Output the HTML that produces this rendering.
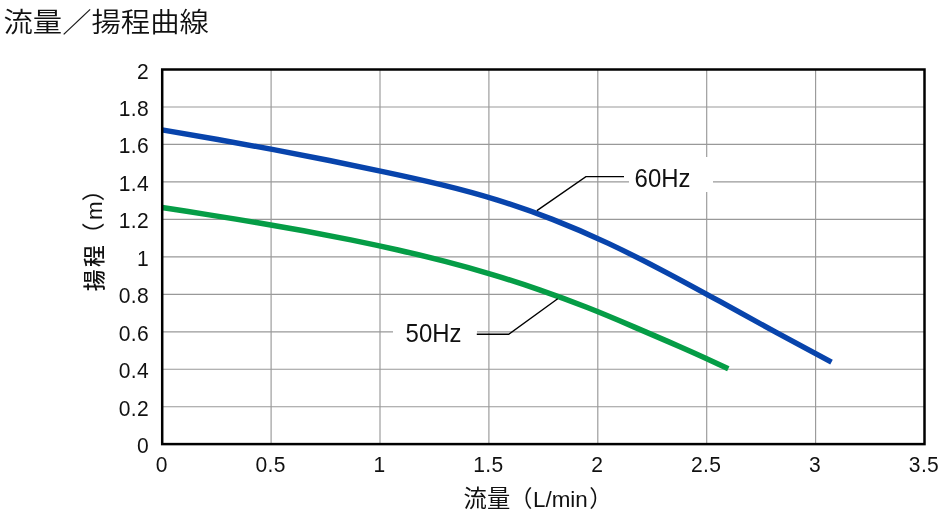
<!DOCTYPE html>
<html lang="ja">
<head>
<meta charset="utf-8">
<title>流量／揚程曲線</title>
<style>
html,body{margin:0;padding:0;background:#fff;}
body{width:940px;height:514px;overflow:hidden;position:relative;font-family:"Liberation Sans","Noto Sans CJK JP",sans-serif;}
svg{position:absolute;left:0;top:0;display:block;}
.title{font-family:"Liberation Sans","Noto Sans CJK JP",sans-serif;font-size:29px;font-weight:350;fill:#111;}
.tick text{font-family:"Liberation Sans",sans-serif;font-size:22.4px;fill:#111;letter-spacing:0.4px;}
.axis{font-family:"Liberation Sans","Noto Sans CJK JP",sans-serif;font-size:22.5px;fill:#111;}
.kj{font-size:23.3px;font-weight:400;}
.kjy{font-size:21.7px;font-weight:500;}
.pr{font-size:23px;font-weight:400;}
.lt{font-size:22.4px;}
.lab{font-family:"Liberation Sans",sans-serif;font-size:25.6px;fill:#111;}
.grid line{stroke:#999;stroke-width:1.15;}
</style>
</head>
<body>
<svg width="940" height="514" viewBox="0 0 940 514">
<rect x="0" y="0" width="940" height="514" fill="#fff"/>
<text class="title" transform="translate(3.4,32.3) scale(1.013,0.957)">流量／揚程曲線</text>
<g class="grid">
<line x1="271.1" y1="69.5" x2="271.1" y2="444.1"/>
<line x1="380.0" y1="69.5" x2="380.0" y2="444.1"/>
<line x1="488.9" y1="69.5" x2="488.9" y2="444.1"/>
<line x1="597.8" y1="69.5" x2="597.8" y2="444.1"/>
<line x1="706.7" y1="69.5" x2="706.7" y2="444.1"/>
<line x1="815.6" y1="69.5" x2="815.6" y2="444.1"/>
<line x1="162.2" y1="406.7" x2="924.5" y2="406.7"/>
<line x1="162.2" y1="369.2" x2="924.5" y2="369.2"/>
<line x1="162.2" y1="331.8" x2="924.5" y2="331.8"/>
<line x1="162.2" y1="294.3" x2="924.5" y2="294.3"/>
<line x1="162.2" y1="256.8" x2="924.5" y2="256.8"/>
<line x1="162.2" y1="219.4" x2="924.5" y2="219.4"/>
<line x1="162.2" y1="181.9" x2="924.5" y2="181.9"/>
<line x1="162.2" y1="144.4" x2="924.5" y2="144.4"/>
<line x1="162.2" y1="107.0" x2="924.5" y2="107.0"/>
</g>
<rect x="629" y="157" width="84" height="35" fill="#fff"/>
<rect x="393" y="313" width="84" height="35" fill="#fff"/>
<path d="M162.0,129.90 C180.6,133.07 199.2,136.25 217.8,139.50 C236.4,142.75 255.0,146.09 273.6,149.58 C292.2,153.08 310.8,156.73 329.4,160.50 C348.0,164.27 366.6,168.14 385.2,172.10 C403.8,176.05 422.4,180.11 441.0,184.62 C459.6,189.13 478.2,194.10 496.8,199.86 C515.3,205.61 533.9,212.12 552.5,219.38 C571.1,226.64 589.7,234.65 608.3,243.38 C626.9,252.11 645.5,261.53 664.1,271.31 C682.7,281.10 701.3,291.26 719.9,301.49 C738.5,311.72 757.1,322.03 775.7,332.21 C794.3,342.40 812.9,352.39 831.5,362.20" fill="none" stroke="#0844ac" stroke-width="5.4"/>
<path d="M162.0,207.50 C177.7,209.94 193.5,212.37 209.2,214.86 C224.9,217.35 240.7,219.88 256.4,222.52 C272.1,225.16 287.8,227.90 303.6,230.78 C319.3,233.66 335.0,236.67 350.8,239.86 C366.5,243.06 382.2,246.41 398.0,249.99 C413.7,253.56 429.4,257.35 445.1,261.43 C460.9,265.51 476.6,269.88 492.3,274.60 C508.1,279.32 523.8,284.39 539.5,289.83 C555.3,295.28 571.0,301.09 586.7,307.29 C602.5,313.49 618.2,320.14 633.9,326.89 C649.6,333.64 665.4,340.35 681.1,347.22 C696.8,354.09 712.6,361.35 728.3,368.80" fill="none" stroke="#059d46" stroke-width="5.5"/>
<rect x="162.2" y="69.5" width="762.3" height="374.6" fill="none" stroke="#000" stroke-width="2.5"/>
<polyline points="536.9,210.6 585.9,176.6 624,176.6" fill="none" stroke="#000" stroke-width="1.4"/>
<polyline points="557.7,298.7 508.7,334.3 476.8,334.3" fill="none" stroke="#000" stroke-width="1.4"/>
<text class="lab" transform="translate(634.6,187.2) scale(0.935,1)">60Hz</text>
<text class="lab" transform="translate(405.6,341.9) scale(0.935,1)">50Hz</text>
<g class="tick" transform="scale(0.94,1)">
<text x="158.7" y="453.2" text-anchor="end">0</text>
<text x="158.7" y="415.8" text-anchor="end">0.2</text>
<text x="158.7" y="378.3" text-anchor="end">0.4</text>
<text x="158.7" y="340.9" text-anchor="end">0.6</text>
<text x="158.7" y="303.4" text-anchor="end">0.8</text>
<text x="158.7" y="265.9" text-anchor="end">1</text>
<text x="158.7" y="228.5" text-anchor="end">1.2</text>
<text x="158.7" y="191.0" text-anchor="end">1.4</text>
<text x="158.7" y="153.5" text-anchor="end">1.6</text>
<text x="158.7" y="116.1" text-anchor="end">1.8</text>
<text x="158.7" y="78.6" text-anchor="end">2</text>
<text x="172.0" y="472.3" text-anchor="middle">0</text>
<text x="287.9" y="472.3" text-anchor="middle">0.5</text>
<text x="403.7" y="472.3" text-anchor="middle">1</text>
<text x="519.6" y="472.3" text-anchor="middle">1.5</text>
<text x="635.4" y="472.3" text-anchor="middle">2</text>
<text x="751.3" y="472.3" text-anchor="middle">2.5</text>
<text x="867.1" y="472.3" text-anchor="middle">3</text>
<text x="983.0" y="472.3" text-anchor="middle">3.5</text>
</g>
<text class="axis" y="507.1"><tspan x="463.6" class="kj">流量</tspan><tspan x="509.5" class="pr">（</tspan><tspan x="533" class="lt">L/min</tspan><tspan x="589.3" class="pr">）</tspan></text>
<text class="axis" transform="translate(102.3,0) rotate(-90)" y="0"><tspan x="-291.2" class="kjy">揚</tspan><tspan x="-267" class="kjy">程</tspan><tspan x="-245.5" class="pr">（</tspan><tspan x="-220" class="lt">m</tspan><tspan x="-201.2" class="pr">）</tspan></text>
</svg>
</body>
</html>
